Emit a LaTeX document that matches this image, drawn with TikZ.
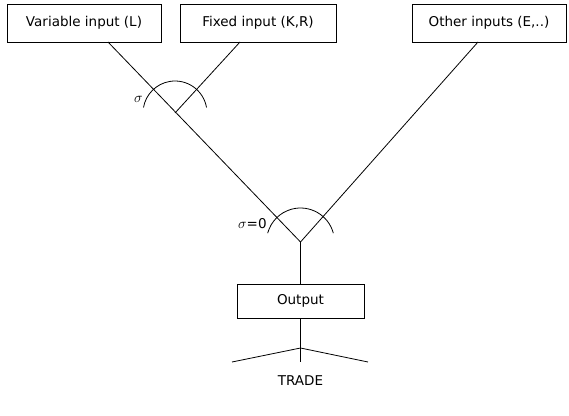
\documentclass[tikz,border=0pt]{standalone}
\usepackage{fontspec}
\setmainfont{DejaVu Sans}
\begin{document}
\begin{tikzpicture}[x=1pt,y=-1pt, line width=0.8pt,
  box/.style={draw, minimum height=38pt, inner sep=0pt, font=\fontsize{13.5}{16}\selectfont},
  lbl/.style={inner sep=0pt, font=\fontsize{13.5}{16}\selectfont}]
\useasboundingbox (0,0) rectangle (569,415);
\node[box, minimum width=154pt] (var) at (84,23) {Variable input (L)};
\node[box, minimum width=156pt] (fix) at (258,23) {Fixed input (K,R)};
\node[box, minimum width=154pt] (oth) at (489,23) {Other inputs (E,..)};
\node[box, minimum width=127pt, minimum height=34pt] (out) at (300.5,301) {Output};
\coordinate (vs) at (108,42);
\coordinate (fs) at (240,42);
\coordinate (os) at (478,42);
\coordinate (j1) at (175,113);
\coordinate (j2) at (300.5,242);
\coordinate (t) at (300.5,348);
\coordinate (tb) at (300.5,362);
\coordinate (tl) at (232,362);
\coordinate (tr) at (368,362);
\draw (vs) -- (j2);
\draw (fs) -- (j1);
\draw (os) -- (j2);
\draw (j2) -- (out.north);
\draw (out.south) -- (tb);
\draw (tl) -- (t) -- (tr);
\draw (j1) ++(-10:32) arc[start angle=-10, end angle=-170, radius=32];
\draw (j2) ++(-15:34) arc[start angle=-15, end angle=-165, radius=34];
\node[lbl, anchor=east] (s1) at (143,99) {$\sigma$};
\node[lbl, anchor=east] (s2) at (267,224) {$\sigma$=0};
\node[lbl] (trade) at (300.5,381) {TRADE};
\end{tikzpicture}
\end{document}
